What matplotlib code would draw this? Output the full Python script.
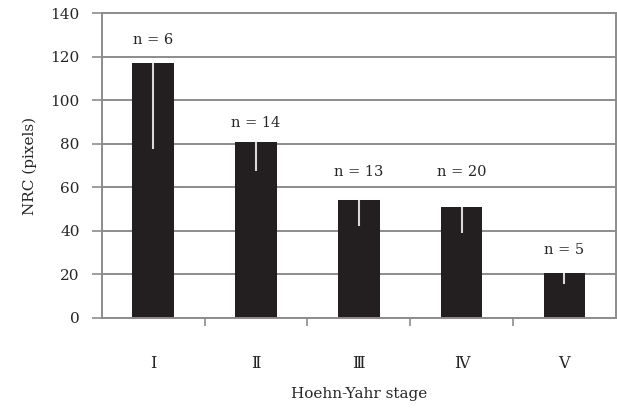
import matplotlib
matplotlib.use("Agg")
import matplotlib.pyplot as plt
import numpy as np

stages = ["Ⅰ", "Ⅱ", "Ⅲ", "Ⅳ", "Ⅴ"]
nrc_mean = [117.0, 81.0, 54.0, 51.0, 20.5]
nrc_sd = [39.5, 13.5, 12.0, 12.0, 5.0]
n_labels = ["n = 6", "n = 14", "n = 13", "n = 20", "n = 5"]
label_heights = [127.5, 89.5, 67.0, 67.0, 31.0]
yticks = [0, 20, 40, 60, 80, 100, 120, 140]

fam = ["DejaVu Serif", "Liberation Serif", "Noto Sans CJK JP"]
plt.rcParams['font.family'] = fam
txt = "#262626"
grid_c = "#8c8c8c"

fig = plt.figure(figsize=(6.17, 4.09), dpi=100)
ax = fig.add_axes([0.165, 0.2232, 0.833, 0.7443])

x = np.arange(len(stages))
ax.set_axisbelow(True)
ax.yaxis.grid(True, color=grid_c, linewidth=1.4)
ax.bar(x, nrc_mean, width=0.405, color="#231f20", zorder=2)
ax.errorbar(x, nrc_mean, yerr=[nrc_sd, [0] * len(nrc_sd)], fmt="none",
            ecolor="#d8d8d8", elinewidth=1.5, capsize=0, zorder=3)

for xi, h, lab in zip(x, label_heights, n_labels):
    ax.text(xi, h, lab, ha="center", va="center", fontsize=10.5, color=txt)

ax.set_xlim(-0.5, 4.5)
ax.set_ylim(0, 140)
ax.set_yticks(yticks)
ax.set_yticklabels([str(v) for v in yticks], fontsize=11, color=txt)
ax.set_xticks(x)
ax.set_xticklabels(stages, fontsize=11.5, color=txt)
ax.set_xticks(np.arange(0.5, 4.5, 1), minor=True)
ax.tick_params(axis="x", which="major", length=0, pad=27)
ax.tick_params(axis="x", which="minor", length=6, color=grid_c, width=1.2, direction="out")
ax.tick_params(axis="y", length=7, color=grid_c, width=1.2, direction="out", pad=9)

for s in ax.spines.values():
    s.set_color(grid_c)
    s.set_linewidth(1.4)

ax.set_ylabel("NRC (pixels)", fontsize=11, color=txt)
ax.set_xlabel("Hoehn-Yahr stage", fontsize=11, color=txt)
ax.yaxis.set_label_coords(-0.126, 0.5)
ax.xaxis.set_label_coords(0.5, -0.226)

fig.savefig("out.png", dpi=100)
